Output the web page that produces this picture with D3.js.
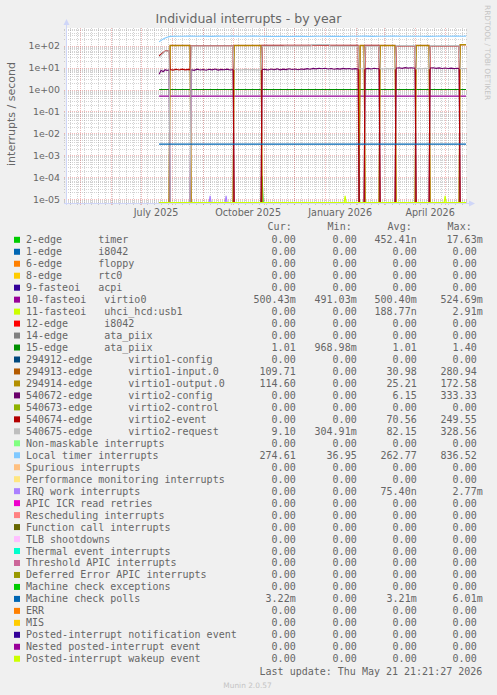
<!DOCTYPE html>
<html><head><meta charset="utf-8">
<script src="https://cdn.jsdelivr.net/npm/d3@7/dist/d3.min.js"></script>
<style>
body{margin:0;background:#f0f0f0;}
svg text{white-space:pre;}
</style>
</head><body>
<svg id="chart" width="497" height="695"></svg>
<script>
// ---------------- DATA ----------------
const lastUpdate = "2026-05-21 21:21:27";
const spanDays = 400;
const dataStart = "2025-07-19";
const dataEnd = "2026-05-21";

const yTickValues = [1e2, 1e1, 1e0, 1e-1, 1e-2, 1e-3, 1e-4, 1e-5];
const yTickLabels = ["1e+02","1e+01","1e+00","1e-01","1e-02","1e-03","1e-04","1e-05"];
const yDomain = [6.6e-6, 645];

const xLabelMonths = ["2025-07-01","2025-10-01","2026-01-01","2026-04-01"];
const xTickLabels = ["July 2025","October 2025","January 2026","April 2026"];

const legendNames = [
"2-edge      timer","1-edge      i8042","6-edge      floppy","8-edge      rtc0",
"9-fasteoi   acpi","10-fasteoi   virtio0","11-fasteoi   uhci_hcd:usb1","12-edge      i8042",
"14-edge      ata_piix","15-edge      ata_piix","294912-edge      virtio1-config",
"294913-edge      virtio1-input.0","294914-edge      virtio1-output.0",
"540672-edge      virtio2-config","540673-edge      virtio2-control",
"540674-edge      virtio2-event","540675-edge      virtio2-request",
"Non-maskable interrupts","Local timer interrupts","Spurious interrupts",
"Performance monitoring interrupts","IRQ work interrupts","APIC ICR read retries",
"Rescheduling interrupts","Function call interrupts","TLB shootdowns",
"Thermal event interrupts","Threshold APIC interrupts","Deferred Error APIC interrupts",
"Machine check exceptions","Machine check polls","ERR","MIS",
"Posted-interrupt notification event","Nested posted-interrupt event","Posted-interrupt wakeup event"];

const legendColors = [
"#00CC00","#0066B3","#FF8000","#FFCC00","#330099","#990099","#CCFF00","#FF0000",
"#808080","#008F00","#00487D","#B35A00","#B38F00","#6B006B","#8FB300","#B30000",
"#BEBEBE","#80FF80","#80C9FF","#FFC080","#FFE680","#AA80FF","#EE00CC","#FF8080",
"#666600","#FFBFFF","#00FFCC","#CC6699","#999900","#00CC00","#0066B3","#FF8000",
"#FFCC00","#330099","#990099","#CCFF00"];

const curVals = ["0.00","0.00","0.00","0.00","0.00","500.43m","0.00","0.00","0.00","1.01","0.00","109.71","114.60","0.00","0.00","0.00","9.10","0.00","274.61","0.00","0.00","0.00","0.00","0.00","0.00","0.00","0.00","0.00","0.00","0.00","3.22m","0.00","0.00","0.00","0.00","0.00"];
const minVals = ["0.00","0.00","0.00","0.00","0.00","491.03m","0.00","0.00","0.00","968.98m","0.00","0.00","0.00","0.00","0.00","0.00","304.91m","0.00","36.95","0.00","0.00","0.00","0.00","0.00","0.00","0.00","0.00","0.00","0.00","0.00","0.00","0.00","0.00","0.00","0.00","0.00"];
const avgVals = ["452.41n","0.00","0.00","0.00","0.00","500.40m","188.77n","0.00","0.00","1.01","0.00","30.98","25.21","6.15","0.00","70.56","82.15","0.00","262.77","0.00","0.00","75.40n","0.00","0.00","0.00","0.00","0.00","0.00","0.00","0.00","3.21m","0.00","0.00","0.00","0.00","0.00"];
const maxVals = ["17.63m","0.00","0.00","0.00","0.00","524.69m","2.91m","0.00","0.00","1.40","0.00","280.94","172.58","333.33","0.00","249.55","328.56","0.00","836.52","0.00","0.00","2.77m","0.00","0.00","0.00","0.00","0.00","0.00","0.00","0.00","6.01m","0.00","0.00","0.00","0.00","0.00"];

// flat series levels (legend index -> level)
const flatLevels = {5: 0.5004, 9: 1.01, 30: 0.00321};

// series with time-varying values: [date, value]
const timer2Edge = [["2025-07-19",0],["2025-10-29",0],["2025-10-30",1.1e-4],["2025-10-31",0],["2026-05-21",0]];
const uhciUsb1 = [["2025-07-19",0],["2026-01-20",0],["2026-01-21",1.4e-5],["2026-01-22",0],["2026-04-30",0],["2026-05-01",1.4e-5],["2026-05-02",0],["2026-05-21",0]];
const irqWork = [["2025-07-19",0],["2025-09-07",0],["2025-09-08",1.4e-5],["2025-09-09",0],["2025-09-23",0],["2025-09-24",1.4e-5],["2025-09-25",0],["2026-05-21",0]];

const virtio1Input = [["2025-07-19",0],["2025-07-29",0],["2025-07-30",104],["2025-08-19",104],["2025-08-20",0],
["2025-10-01",0],["2025-10-02",104],["2025-10-29",104],["2025-10-30",0],
["2026-02-04",0],["2026-02-05",104],["2026-02-09",104],["2026-02-10",0],
["2026-02-24",0],["2026-02-25",104],["2026-03-12",104],["2026-03-13",0],
["2026-04-01",0],["2026-04-02",104],["2026-04-15",104],["2026-04-16",0],
["2026-05-15",0],["2026-05-16",110],["2026-05-21",109.7]];

const virtio1Output = [["2025-07-19",0],["2025-07-29",0],["2025-07-30",100],["2025-08-19",100],["2025-08-20",0],
["2025-10-01",0],["2025-10-02",100],["2025-10-29",100],["2025-10-30",0],
["2026-02-04",0],["2026-02-05",100],["2026-02-09",100],["2026-02-10",0],
["2026-02-24",0],["2026-02-25",100],["2026-03-12",100],["2026-03-13",0],
["2026-04-01",0],["2026-04-02",100],["2026-04-15",100],["2026-04-16",0],
["2026-05-15",0],["2026-05-16",112],["2026-05-21",114.6]];

const virtio2Config = [["2025-07-19",5.0],["2025-07-21",7.5],["2025-07-23",6.5],["2025-07-25",8.0],["2025-07-27",7.4],["2025-07-29",8.0],["2025-07-30",0],
["2025-08-19",0],["2025-08-20",8.0],["2025-08-23",7.5],["2025-08-26",8.5],["2025-08-29",7.8],["2025-09-01",8.2],["2025-09-04",7.6],["2025-09-07",8.4],["2025-09-10",7.9],["2025-09-13",8.6],["2025-09-16",7.7],["2025-09-19",8.3],["2025-09-22",8.0],["2025-09-25",8.5],["2025-09-28",7.8],["2025-10-01",8.2],["2025-10-02",0],
["2025-10-29",0],["2025-10-30",8.2],["2025-11-02",8.3],["2025-11-05",7.8],["2025-11-08",8.6],["2025-11-11",8.0],["2025-11-14",8.8],["2025-11-17",7.9],["2025-11-20",8.5],["2025-11-23",8.1],["2025-11-26",8.9],["2025-11-29",8.2],["2025-12-02",8.7],["2025-12-05",8.0],["2025-12-08",8.6],["2025-12-11",8.3],["2025-12-14",9.0],["2025-12-17",8.4],["2025-12-20",9.2],["2025-12-23",8.8],["2025-12-26",9.4],["2025-12-29",8.9],["2026-01-01",9.3],["2026-01-04",8.7],["2026-01-07",9.1],["2026-01-10",8.5],["2026-01-13",9.0],["2026-01-16",8.6],["2026-01-19",9.2],["2026-01-22",8.8],["2026-01-25",9.1],["2026-01-28",8.6],["2026-01-31",9.0],["2026-02-03",8.7],["2026-02-04",0],
["2026-02-09",0],["2026-02-10",8.6],["2026-02-13",9.2],["2026-02-16",8.7],["2026-02-19",9.4],["2026-02-22",8.9],["2026-02-24",9.1],["2026-02-25",0],
["2026-03-12",0],["2026-03-13",9.4],["2026-03-16",9.9],["2026-03-19",9.3],["2026-03-22",10.0],["2026-03-25",9.5],["2026-03-28",9.8],["2026-04-01",9.4],["2026-04-02",0],
["2026-04-15",0],["2026-04-16",9.6],["2026-04-19",9.9],["2026-04-22",9.3],["2026-04-25",9.7],["2026-04-28",9.2],["2026-05-01",9.6],["2026-05-04",9.1],["2026-05-07",9.5],["2026-05-10",9.0],["2026-05-13",9.4],["2026-05-15",9.1],["2026-05-16",0],["2026-05-21",0]];

const virtio2Event = [["2025-07-19",35],["2025-07-22",45],["2025-07-25",58],["2025-07-29",60],["2025-07-30",8.2],
["2025-08-02",7.7],["2025-08-05",8.4],["2025-08-08",7.8],["2025-08-11",8.5],["2025-08-14",7.9],["2025-08-17",8.3],["2025-08-19",8.0],["2025-08-20",100],
["2025-10-01",100],["2025-10-02",0],["2025-10-29",0],["2025-10-30",104],["2025-11-20",104],["2025-11-21",106],["2025-12-18",105],["2026-02-03",104],["2026-02-04",0],
["2026-02-09",0],["2026-02-10",104],["2026-02-24",104],["2026-02-25",0],
["2026-03-12",0],["2026-03-13",98],["2026-04-01",98],["2026-04-02",0],
["2026-04-15",0],["2026-04-16",98],["2026-05-15",98],["2026-05-16",0],["2026-05-21",0]];

const virtio2Request = [["2025-07-19",30],["2025-07-22",40],["2025-07-25",55],["2025-07-29",60],["2025-07-30",0],
["2025-08-19",0],["2025-08-20",97],["2025-10-01",97],["2025-10-02",8.5],["2025-10-05",8.2],["2025-10-09",7.8],["2025-10-13",8.4],["2025-10-17",8.0],["2025-10-21",8.3],["2025-10-25",7.9],["2025-10-29",8.2],["2025-10-30",96],
["2025-12-18",96],["2025-12-19",112],["2026-01-05",112],["2026-01-06",96],["2026-02-03",96],["2026-02-04",8.9],["2026-02-09",9.0],["2026-02-10",96],["2026-02-24",96],
["2026-02-25",9.0],["2026-02-28",8.7],["2026-03-03",9.2],["2026-03-06",8.8],["2026-03-09",9.1],["2026-03-12",8.9],["2026-03-13",101],["2026-04-01",101],
["2026-04-02",8.8],["2026-04-05",9.2],["2026-04-08",8.9],["2026-04-11",9.3],["2026-04-15",9.0],["2026-04-16",101],["2026-05-15",101],["2026-05-16",9.0],["2026-05-21",9.1]];

const localTimer = [["2025-07-19",150],["2025-07-21",175],["2025-07-24",215],["2025-07-27",245],["2025-07-30",268],["2025-08-05",272],["2025-08-12",270],["2025-08-19",278],["2025-08-26",271],["2025-09-02",275],["2025-09-09",268],["2025-09-16",274],["2025-09-23",270],["2025-09-30",276],["2025-10-07",272],["2025-10-14",269],["2025-10-21",275],["2025-10-28",271],["2025-11-04",268],["2025-11-11",262],["2025-11-18",270],["2025-11-25",266],["2025-12-02",272],["2025-12-09",268],["2025-12-16",264],["2025-12-23",270],["2025-12-30",273],["2026-01-06",268],["2026-01-13",271],["2026-01-20",266],["2026-01-27",273],["2026-02-03",270],["2026-02-10",275],["2026-02-17",268],["2026-02-24",272],["2026-03-03",270],["2026-03-10",274],["2026-03-17",269],["2026-03-24",272],["2026-03-31",270],["2026-04-07",273],["2026-04-14",268],["2026-04-21",271],["2026-04-28",274],["2026-05-05",270],["2026-05-12",276],["2026-05-19",272],["2026-05-21",275]];

const seriesPoints = {0: timer2Edge, 6: uhciUsb1, 11: virtio1Input, 12: virtio1Output, 13: virtio2Config, 15: virtio2Event, 16: virtio2Request, 18: localTimer, 21: irqWork};

// ---------------- DRAW ----------------
const svg = d3.select("#chart");
const W = 497, H = 695;
const X0 = 66, X1 = 466, Y0 = 203, Y1 = 28;
const parseDay = d3.timeParse("%Y-%m-%d");
const parseFull = d3.timeParse("%Y-%m-%d %H:%M:%S");
const tEnd = parseFull(lastUpdate);
const tStart = d3.timeDay.offset(tEnd, -spanDays);

const x = d3.scaleTime().domain([tStart, tEnd]).range([X0, X1]);
const y = d3.scaleLog().domain(yDomain).range([Y0, Y1]).clamp(true);

const textCol = "#666666";
svg.append("rect").attr("width", W).attr("height", H).attr("fill", "#f0f0f0");
svg.append("rect").attr("x", X0).attr("y", Y1).attr("width", X1 - X0).attr("height", Y0 - Y1).attr("fill", "#ffffff");

const grid = svg.append("g");
const minorCol = "rgba(150,150,150,0.42)", majorCol = "rgba(225,90,90,0.42)";
// horizontal grid
const decades = d3.range(-6, 3);
decades.forEach(k => {
  for (let m = 1; m <= 9; m++) {
    const v = m * Math.pow(10, k);
    if (v < yDomain[0] || v > yDomain[1]) continue;
    const yy = Math.round(y(v)) + 0.5;
    grid.append("line").attr("x1", X0 - 2).attr("x2", X1 + 2).attr("y1", yy).attr("y2", yy)
      .attr("stroke", m === 1 ? majorCol : minorCol).attr("stroke-dasharray", "1,1");
  }
});
// vertical grid
d3.timeMonday.range(tStart, tEnd).forEach(d => {
  const xx = Math.round(x(d)) + 0.5;
  grid.append("line").attr("x1", xx).attr("x2", xx).attr("y1", Y1).attr("y2", Y0 + 2)
    .attr("stroke", minorCol).attr("stroke-dasharray", "1,1");
});
d3.timeMonth.range(tStart, tEnd).forEach(d => {
  const xx = Math.round(x(d)) + 0.5;
  grid.append("line").attr("x1", xx).attr("x2", xx).attr("y1", Y1).attr("y2", Y0 + 2)
    .attr("stroke", majorCol).attr("stroke-dasharray", "1,1");
});

// y tick labels
const axisFont = "DejaVu Sans, sans-serif";
yTickValues.forEach((v, i) => {
  svg.append("text").attr("x", 60).attr("y", y(v) + 3.5).attr("text-anchor", "end")
    .attr("font-family", axisFont).attr("font-size", 9.4).attr("fill", textCol).text(yTickLabels[i]);
});
// x labels (rrdtool centres label half a month after the tick)
xLabelMonths.forEach((m, i) => {
  const d = d3.timeDay.offset(parseDay(m), 15);
  svg.append("text").attr("x", x(d)).attr("y", 216).attr("text-anchor", "middle")
    .attr("font-family", axisFont).attr("font-size", 9.6).attr("fill", textCol).text(xTickLabels[i]);
});

// series
const plot = svg.append("g");
svg.append("clipPath").attr("id", "clip").append("rect").attr("x", X0).attr("y", Y1 - 1).attr("width", X1 - X0 + 1).attr("height", Y0 - Y1 + 1);
plot.attr("clip-path", "url(#clip)");
const line = d3.line().x(d => x(d[0])).y(d => d[1] > 0 ? y(d[1]) : Y0 - 0.5);

legendNames.forEach((name, i) => {
  let pts;
  if (seriesPoints[i]) pts = seriesPoints[i].map(p => [parseDay(p[0]), p[1]]);
  else {
    const lvl = flatLevels[i] !== undefined ? flatLevels[i] : 0;
    pts = [[parseDay(dataStart), lvl], [parseDay(dataEnd), lvl]];
  }
  pts.push([tEnd, pts[pts.length - 1][1]]);
  plot.append("path").datum(pts).attr("d", line).attr("fill", "none")
    .attr("stroke", legendColors[i]).attr("stroke-width", 1.1).attr("stroke-linejoin", "miter");
});

// axes
const axisCol = "#CFD6F8";
svg.append("line").attr("x1", X0 + 0.5).attr("x2", X0 + 0.5).attr("y1", Y0 + 2).attr("y2", 24).attr("stroke", axisCol);
svg.append("line").attr("x1", X0 - 2).attr("x2", X1 + 4).attr("y1", Y0 + 0.5).attr("y2", Y0 + 0.5).attr("stroke", axisCol);
svg.append("path").attr("d", `M${X0 - 2.5},${25} L${X0 + 3.5},${25} L${X0 + 0.5},${19} Z`).attr("fill", axisCol);
svg.append("path").attr("d", `M${X1 + 3},${Y0 - 2.5} L${X1 + 3},${Y0 + 3.5} L${X1 + 9},${Y0 + 0.5} Z`).attr("fill", axisCol);

// title
svg.append("text").attr("x", 248.5).attr("y", 23).attr("text-anchor", "middle")
  .attr("font-family", axisFont).attr("font-size", 12.5).attr("fill", textCol).text("Individual interrupts - by year");
// y title
svg.append("text").attr("transform", "translate(15,114) rotate(-90)").attr("text-anchor", "middle")
  .attr("font-family", axisFont).attr("font-size", 11).attr("fill", textCol).text("interrupts / second");
// rrdtool credit
svg.append("text").attr("transform", "translate(485,5) rotate(90)").attr("text-anchor", "start")
  .attr("font-family", axisFont).attr("font-size", 7.4).attr("fill", "#c4c4c4").text("RRDTOOL / TOBI OETIKER");

// legend
const mono = "DejaVu Sans Mono, monospace";
const lg = svg.append("g").attr("font-family", mono).attr("font-size", 10).attr("fill", textCol);
const headerY = 230.2;
[["Cur:", 291.7], ["Min:", 351.7], ["Avg:", 411.7], ["Max:", 471.7]].forEach(h => {
  lg.append("text").attr("x", h[1]).attr("y", headerY).attr("text-anchor", "end").text(h[0]);
});
const colEnds = [295.7, 356.7, 416.7, 476.7];
legendNames.forEach((name, i) => {
  const cy = 239.8 + 11.97 * i;
  lg.append("rect").attr("x", 14).attr("y", cy - 3).attr("width", 6).attr("height", 6).attr("fill", legendColors[i]);
  lg.append("text").attr("x", 26).attr("y", cy + 3.5).text(name);
  [curVals, minVals, avgVals, maxVals].forEach((arr, c) => {
    let xe = colEnds[c];
    const v = arr[i];
    if (c === 3 && /[a-z]$/.test(v)) xe += 6;
    lg.append("text").attr("x", xe).attr("y", cy + 3.5).attr("text-anchor", "end").text(v);
  });
});
lg.append("text").attr("x", 482.3).attr("y", 675.2).attr("text-anchor", "end").text("Last update: Thu May 21 21:21:27 2026");
svg.append("text").attr("x", 247.5).attr("y", 687.5).attr("text-anchor", "middle")
  .attr("font-family", axisFont).attr("font-size", 7.4).attr("fill", "#c4c4c4").text("Munin 2.0.57");
</script>
</body></html>
